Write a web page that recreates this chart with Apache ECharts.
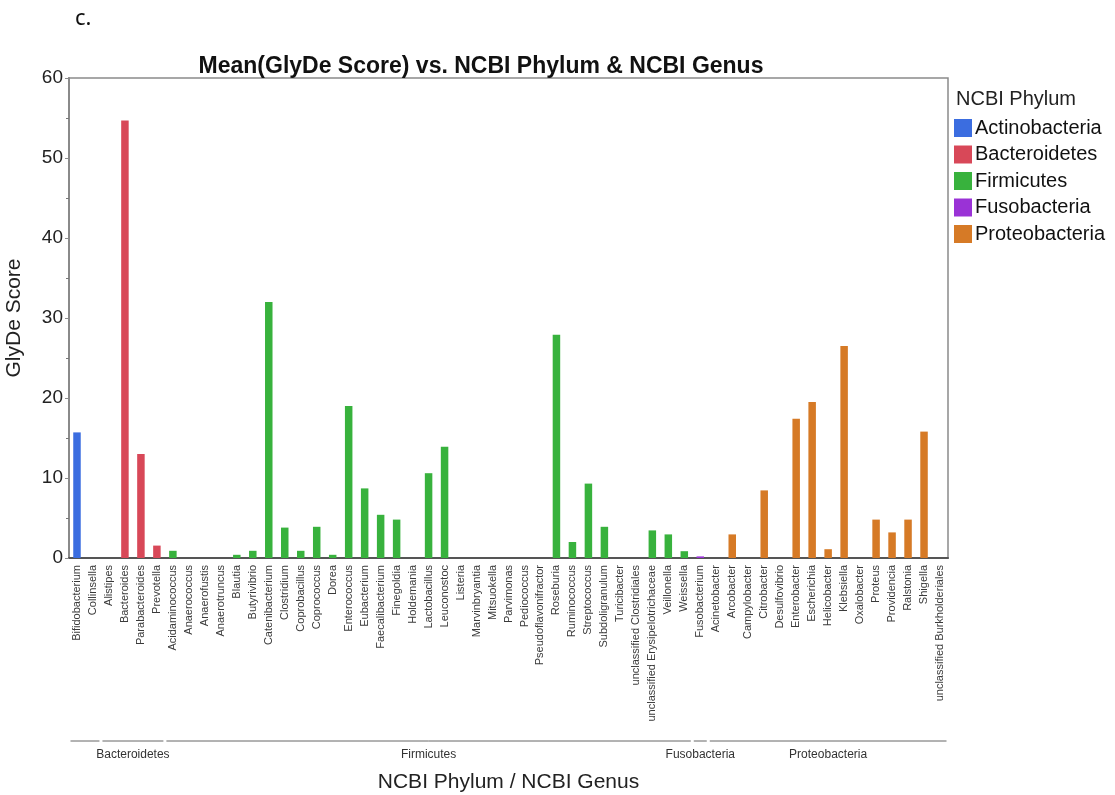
<!DOCTYPE html>
<html>
<head>
<meta charset="utf-8">
<script src="https://cdn.jsdelivr.net/npm/echarts@6/dist/echarts.min.js"></script>
<style>
  html, body { margin: 0; padding: 0; background: #fff; }
  #chart { width: 1115px; height: 795px; }
</style>
</head>
<body>
<div id="chart"></div>
<script>
// Genera, in plot order
const genera = [
  'Bifidobacterium', 'Collinsella',
  'Alistipes', 'Bacteroides', 'Parabacteroides', 'Prevotella',
  'Acidaminococcus', 'Anaerococcus', 'Anaerofustis', 'Anaerotruncus', 'Blautia',
  'Butyrivibrio', 'Catenibacterium', 'Clostridium', 'Coprobacillus', 'Coprococcus',
  'Dorea', 'Enterococcus', 'Eubacterium', 'Faecalibacterium', 'Finegoldia',
  'Holdemania', 'Lactobacillus', 'Leuconostoc', 'Listeria', 'Marvinbryantia',
  'Mitsuokella', 'Parvimonas', 'Pediococcus', 'Pseudoflavonifractor', 'Roseburia',
  'Ruminococcus', 'Streptococcus', 'Subdoligranulum', 'Turicibacter',
  'unclassified Clostridiales', 'unclassified Erysipelotrichaceae', 'Veillonella', 'Weissella',
  'Fusobacterium',
  'Acinetobacter', 'Arcobacter', 'Campylobacter', 'Citrobacter', 'Desulfovibrio',
  'Enterobacter', 'Escherichia', 'Helicobacter', 'Klebsiella', 'Oxalobacter',
  'Proteus', 'Providencia', 'Ralstonia', 'Shigella', 'unclassified Burkholderiales'
];

// Phylum of each genus (same order as genera)
const genusPhylum = [
  'Actinobacteria', 'Actinobacteria',
  'Bacteroidetes', 'Bacteroidetes', 'Bacteroidetes', 'Bacteroidetes',
  'Firmicutes', 'Firmicutes', 'Firmicutes', 'Firmicutes', 'Firmicutes',
  'Firmicutes', 'Firmicutes', 'Firmicutes', 'Firmicutes', 'Firmicutes',
  'Firmicutes', 'Firmicutes', 'Firmicutes', 'Firmicutes', 'Firmicutes',
  'Firmicutes', 'Firmicutes', 'Firmicutes', 'Firmicutes', 'Firmicutes',
  'Firmicutes', 'Firmicutes', 'Firmicutes', 'Firmicutes', 'Firmicutes',
  'Firmicutes', 'Firmicutes', 'Firmicutes', 'Firmicutes',
  'Firmicutes', 'Firmicutes', 'Firmicutes', 'Firmicutes',
  'Fusobacteria',
  'Proteobacteria', 'Proteobacteria', 'Proteobacteria', 'Proteobacteria', 'Proteobacteria',
  'Proteobacteria', 'Proteobacteria', 'Proteobacteria', 'Proteobacteria', 'Proteobacteria',
  'Proteobacteria', 'Proteobacteria', 'Proteobacteria', 'Proteobacteria', 'Proteobacteria'
];

// Mean GlyDe score per genus (same order as genera)
const meanScore = [
  15.7, 0,
  0, 54.7, 13.0, 1.55,
  0.9, 0, 0, 0, 0.4,
  0.9, 32.0, 3.8, 0.9, 3.9,
  0.4, 19.0, 8.7, 5.4, 4.8,
  0, 10.6, 13.9, 0, 0,
  0, 0, 0, 0, 27.9,
  2.0, 9.3, 3.9, 0,
  0, 3.45, 2.95, 0.85,
  0.2,
  0, 2.95, 0, 8.45, 0,
  17.4, 19.5, 1.1, 26.5, 0,
  4.8, 3.2, 4.8, 15.8, 0
];

const phyla = ['Actinobacteria', 'Bacteroidetes', 'Firmicutes', 'Fusobacteria', 'Proteobacteria'];
const phylumColors = ['#3b6de0', '#d84858', '#38b23d', '#9a32d6', '#d67a26'];

const yTicks = { min: 0, max: 60, interval: 10 };

const FONT = '"Liberation Sans", Arial, sans-serif';

const chart = echarts.init(document.getElementById('chart'), null, { renderer: 'canvas' });

// One series per phylum; each genus carries a value only in its own phylum
const series = phyla.map((p, k) => ({
  name: p,
  type: 'bar',
  stack: 'genus',
  barWidth: 7.5,
  itemStyle: { color: phylumColors[k] },
  emphasis: { disabled: true },
  data: meanScore.map((v, i) => (genusPhylum[i] === p && v > 0 ? v : null))
}));

const grid = { left: 69, right: 167, top: 78, bottom: 237 };

chart.setOption({
  animation: false,
  backgroundColor: '#fff',
  title: {
    text: 'Mean(GlyDe Score) vs. NCBI Phylum & NCBI Genus',
    left: 476, top: 50, textAlign: 'center',
    textStyle: { fontFamily: FONT, fontSize: 23, fontWeight: 'bold', color: '#111' }
  },
  legend: {
    orient: 'vertical',
    left: 954, top: 118,
    padding: 0,
    itemWidth: 18, itemHeight: 18, itemGap: 6.5,
    icon: 'rect',
    selectedMode: false,
    data: phyla,
    textStyle: { fontFamily: FONT, fontSize: 20, color: '#111', padding: [0, 0, 0, -2] }
  },
  grid: Object.assign({
    show: true, borderColor: '#8a8a8a', borderWidth: 1.5,
    containLabel: false, outerBoundsMode: 'none'
  }, grid),
  xAxis: {
    type: 'category',
    data: genera,
    axisLine: { lineStyle: { color: '#555', width: 2 } },
    axisTick: { show: false },
    axisLabel: {
      interval: 0, rotate: 90, margin: 7,
      fontFamily: FONT, fontSize: 11, color: '#3a3a3a'
    },
    name: 'NCBI Phylum / NCBI Genus',
    nameLocation: 'middle', nameGap: 214,
    nameTextStyle: { fontFamily: FONT, fontSize: 21, color: '#222' }
  },
  yAxis: {
    type: 'value',
    min: yTicks.min, max: yTicks.max, interval: yTicks.interval,
    splitLine: { show: false },
    axisLine: { show: true, lineStyle: { color: '#8a8a8a', width: 2 } },
    axisTick: { show: true, length: 4, lineStyle: { color: '#8a8a8a' } },
    minorTick: { show: true, splitNumber: 2, length: 3, lineStyle: { color: '#777' } },
    axisLabel: { fontFamily: FONT, fontSize: 19, color: '#222', margin: 6 },
    name: 'GlyDe Score',
    nameLocation: 'middle', nameGap: 44,
    nameTextStyle: { fontFamily: FONT, fontSize: 21, color: '#222' }
  },
  series: series
});

// Phylum brackets beneath the genus labels, placed from the category axis
function drawGroups() {
  const elements = [];
  const px = name => chart.convertToPixel({ xAxisIndex: 0 }, name);
  const step = px(genera[1]) - px(genera[0]);
  const labelFont = 12;
  const measure = document.createElement('canvas').getContext('2d');
  measure.font = labelFont + 'px ' + FONT;

  const groups = [];
  let start = 0;
  for (let i = 1; i <= genera.length; i++) {
    if (i === genera.length || genusPhylum[i] !== genusPhylum[start]) {
      groups.push({
        name: genusPhylum[start],
        x0: px(genera[start]) - step / 2 + 1.5,
        x1: px(genera[i - 1]) + step / 2 - 1.5
      });
      start = i;
    }
  }
  groups.forEach((g, k) => {
    elements.push({
      type: 'line',
      shape: { x1: g.x0, y1: 741, x2: g.x1, y2: 741 },
      style: { stroke: '#666', lineWidth: 1 },
      silent: true
    });
    // a name is left out when it would run into its neighbour's name
    const cx = (g.x0 + g.x1) / 2;
    const half = measure.measureText(g.name).width / 2;
    const next = groups[k + 1];
    const collides = next &&
      cx + half > (next.x0 + next.x1) / 2 - measure.measureText(next.name).width / 2;
    if (!collides) {
      elements.push({
        type: 'text',
        x: cx, y: 749,
        style: {
          text: g.name, fontFamily: FONT, fontSize: labelFont, fill: '#333',
          align: 'center', verticalAlign: 'top'
        },
        silent: true
      });
    }
  });
  elements.push({
    type: 'text', x: 75, y: 8,
    style: { text: 'c.', fontFamily: '"Noto Sans", "Open Sans", sans-serif', fontSize: 22, fill: '#111' }
  });
  elements.push({
    type: 'text', x: 956, y: 89,
    style: { text: 'NCBI Phylum', fontFamily: FONT, fontSize: 20, fill: '#222' }
  });
  chart.setOption({ graphic: { elements: elements } });
}
drawGroups();
</script>
</body>
</html>
